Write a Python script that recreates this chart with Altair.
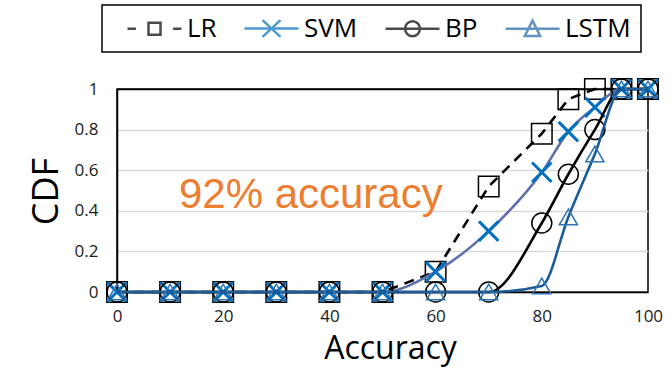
import altair as alt
import pandas as pd

# ---- data ----
accuracy = [0, 10, 20, 30, 40, 50, 60, 70, 80, 85, 90, 95, 100]
series_names = ["LR", "SVM", "BP", "LSTM"]
lr_cdf = [0, 0, 0, 0, 0, 0, 0.10, 0.52, 0.78, 0.95, 1.0, 1.0, 1.0]
svm_cdf = [0, 0, 0, 0, 0, 0, 0.10, 0.30, 0.59, 0.79, 0.91, 1.0, 1.0]
bp_cdf = [0, 0, 0, 0, 0, 0, 0, 0, 0.34, 0.58, 0.80, 1.0, 1.0]
lstm_cdf = [0, 0, 0, 0, 0, 0, 0, 0, 0.03, 0.37, 0.68, 1.0, 1.0]
x_ticks = [0, 20, 40, 60, 80, 100]
y_ticks = [0, 0.2, 0.4, 0.6, 0.8, 1.0]
ann_text = ["92% accuracy"]
ann_x = [36.5]
ann_y = [0.478]

rows = []
for name, vals in zip(series_names, [lr_cdf, svm_cdf, bp_cdf, lstm_cdf]):
    for a, v in zip(accuracy, vals):
        rows.append({"series": name, "acc": a, "cdf": v})
df = pd.DataFrame(rows)

FONT = "Open Sans"
X = alt.X("acc:Q", scale=alt.Scale(domain=[0, 100], nice=False),
          axis=alt.Axis(values=x_ticks, title="Accuracy", grid=False))
Y = alt.Y("cdf:Q", scale=alt.Scale(domain=[0, 1], nice=False),
          axis=alt.Axis(values=y_ticks, format="~g", title="CDF"))

base = alt.Chart(df)

def line(name, color, width=2.6, dash=None, interp="monotone"):
    kw = dict(color=color, strokeWidth=width, interpolate=interp)
    if dash:
        kw["strokeDash"] = dash
    return base.transform_filter(alt.datum.series == name).mark_line(**kw).encode(x=X, y=Y)

def pts(name, shape, color, size, sw):
    return base.transform_filter(alt.datum.series == name).mark_point(
        shape=shape, filled=False, color=color, size=size, strokeWidth=sw, opacity=1
    ).encode(x=X, y=Y)

XSHAPE = "M-1,-1L1,1M-1,1L1,-1"

layers = [
    line("LR", "black", 2.6, [10, 7], "linear"),
    pts("LR", "square", "black", 420, 1.5),
    line("SVM", "#5E70A8", 2.6),
    pts("SVM", XSHAPE, "#0070C0", 380, 3),
    line("BP", "black", 2.6),
    pts("BP", "circle", "black", 400, 1.5),
    line("LSTM", "#1B5C99", 2.6),
    pts("LSTM", "triangle-up", "#2E75B6", 330, 1.5),
]

# legend-only layer (draws nothing, supplies the legend); symbol unit = 12 px
legend_shapes = [
    "M-2.25,0H-1.55M-0.5,-0.5H0.5V0.5H-0.5ZM1.55,0H2.25",
    "M-2.25,0H2.25M-0.75,-0.7L0.75,0.7M-0.75,0.7L0.75,-0.7",
    "M-2.25,0H2.25M0.62,0A0.62,0.62,0,1,1,-0.62,0A0.62,0.62,0,1,1,0.62,0",
    "M-2.25,0H2.25M0,-0.68L0.64,0.6H-0.64Z",
]
legend_colors = ["black", "#0070C0", "black", "#1F64A6"]
leg = alt.Legend(title=None, orient="none", legendX=-15, legendY=-84,
                 direction="horizontal", columns=4)
legend_layer = base.transform_filter("false").mark_point(filled=False).encode(
    color=alt.Color("series:N", scale=alt.Scale(domain=series_names, range=legend_colors), legend=leg),
    shape=alt.Shape("series:N", scale=alt.Scale(domain=series_names, range=legend_shapes), legend=leg),
)

ann = alt.Chart(pd.DataFrame({"x": ann_x, "y": ann_y, "t": ann_text})).mark_text(
    font="Liberation Sans", fontSize=42, color="#ED7D31", align="center", baseline="middle"
).encode(x=alt.X("x:Q"), y=alt.Y("y:Q"), text="t:N")

chart = alt.layer(*layers, ann, legend_layer).properties(
    width=531, height=203,
    autosize=alt.AutoSizeParams(type="none"),
    padding={"left": 117, "top": 89, "right": 24, "bottom": 77},
).configure_view(
    stroke="black", strokeWidth=1.5
).configure_axis(
    labelFont=FONT, labelFontSize=17, labelColor="#1a1a1a", labelFlush=False,
    titleFont=FONT, titleColor="black", titleFontWeight="normal",
    domainColor="black", domainWidth=1.5, ticks=False, tickSize=0,
).configure_axisX(
    labelPadding=16, titleFontSize=32, titleX=273, titleY=66,
    titleBaseline="alphabetic", titleAlign="center",
).configure_axisY(
    labelPadding=19, titleFontSize=36, titleX=-60, titleY=102, titleAngle=-90,
    titleBaseline="alphabetic", titleAlign="center",
    gridColor={"condition": {"test": "datum.value >= 1", "value": "black"}, "value": "#D9D9D9"},
    gridWidth=1.5,
).configure_legend(
    labelFont=FONT, labelFontSize=26, labelColor="black",
    strokeColor="black", strokeWidth=1.5, padding=10, columnPadding=12,
    labelOffset=19, symbolOffset=29, symbolSize=576, symbolStrokeWidth=2.5,
    symbolFillColor="transparent",
)

chart.save("out.html", embed_options={"renderer": "svg", "actions": False})
